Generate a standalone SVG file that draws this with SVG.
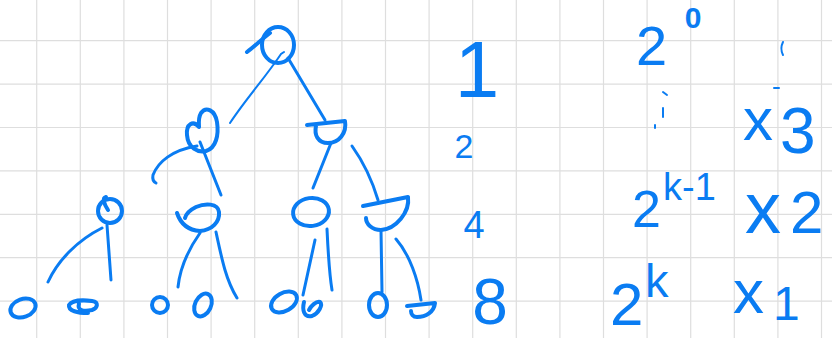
<svg xmlns="http://www.w3.org/2000/svg" width="832" height="338" viewBox="0 0 832 338">
<defs>
<style>
.grid line{stroke:#dedede;stroke-width:1.2}
.n{fill:none;stroke:#0a7cf2;stroke-width:4;stroke-linecap:round;stroke-linejoin:round}
.c{fill:none;stroke:#0a7cf2;stroke-width:3;stroke-linecap:round}
.t{fill:#0a7cf2;font-family:"Liberation Sans",Arial,sans-serif}
.m{fill:none;stroke:#0a7cf2;stroke-width:2;stroke-linecap:round}
</style>
</defs>
<rect width="832" height="338" fill="#ffffff"/>
<g class="grid">
<line x1="36.7" y1="0" x2="36.7" y2="338"/><line x1="80.3" y1="0" x2="80.3" y2="338"/><line x1="123.9" y1="0" x2="123.9" y2="338"/><line x1="167.5" y1="0" x2="167.5" y2="338"/><line x1="211.1" y1="0" x2="211.1" y2="338"/><line x1="254.7" y1="0" x2="254.7" y2="338"/><line x1="298.3" y1="0" x2="298.3" y2="338"/><line x1="341.9" y1="0" x2="341.9" y2="338"/><line x1="385.5" y1="0" x2="385.5" y2="338"/><line x1="429.1" y1="0" x2="429.1" y2="338"/><line x1="472.7" y1="0" x2="472.7" y2="338"/><line x1="516.3" y1="0" x2="516.3" y2="338"/><line x1="559.9" y1="0" x2="559.9" y2="338"/><line x1="603.5" y1="0" x2="603.5" y2="338"/><line x1="647.1" y1="0" x2="647.1" y2="338"/><line x1="690.7" y1="0" x2="690.7" y2="338"/><line x1="734.3" y1="0" x2="734.3" y2="338"/><line x1="777.9" y1="0" x2="777.9" y2="338"/><line x1="821.5" y1="0" x2="821.5" y2="338"/>
<line x1="0" y1="40.7" x2="832" y2="40.7"/><line x1="0" y1="84.1" x2="832" y2="84.1"/><line x1="0" y1="127.5" x2="832" y2="127.5"/><line x1="0" y1="170.9" x2="832" y2="170.9"/><line x1="0" y1="214.3" x2="832" y2="214.3"/><line x1="0" y1="257.7" x2="832" y2="257.7"/><line x1="0" y1="301.1" x2="832" y2="301.1"/>
</g>
<g id="connectors">
<path class="c" style="stroke-width:2" d="M230,123 C245,100 265,78 281,54 L284,52"/>
<path class="c" d="M288,58 L325,120"/>
<path class="c" d="M200,142 L221,195"/>
<path class="c" d="M197,146 C172,150 158,162 153,175 C152,180 154,182 156,183"/>
<path class="c" d="M331,143 L313,188"/>
<path class="c" d="M352,146 C362,160 372,180 378,200"/>
<path class="c" d="M107,225 L111,280"/>
<path class="c" d="M102,228 C78,240 58,260 48,282"/>
<path class="c" d="M200,233 C188,250 180,268 178,287"/>
<path class="c" d="M216,232 C222,260 226,280 237,298"/>
<path class="c" d="M315,240 L303,295"/>
<path class="c" d="M327,229 C328,250 329,272 332,290"/>
<path class="c" d="M381,230 L382,292"/>
<path class="c" d="M396,239 C410,255 418,280 421,300"/>
</g>
<g id="root"><path class="n" d="M247,52 C255,46 262,39 270,33"/><ellipse class="n" cx="278" cy="45" rx="16" ry="18"/></g>
<g id="n2a"><path class="n" d="M199,127 C193,120 186,124 187,135 C188,148 198,153 206,151 C216,148 219,135 217,122 C215,110 206,106 201,113 C198,118 199,124 199,127"/></g>
<g id="n2b"><path class="n" d="M307,125 L345,121 C347,133 339,143 328,143 C318,143 314,135 316,126"/></g>
<g id="n3a"><path class="n" d="M108,210 C104,204 102,198 106,197"/><ellipse class="n" cx="110" cy="211" rx="12" ry="12"/></g>
<g id="n3b"><path class="n" d="M177,213 C180,222 186,230 200,231 C212,230 220,222 219,212 C218,203 205,203 196,207 C190,210 186,214 185,218"/></g>
<g id="n3c"><ellipse class="n" cx="311" cy="212" rx="18" ry="14" transform="rotate(-8 311 212)"/></g>
<g id="n3d"><path class="n" d="M363,206 L408,197 C410,212 396,229 381,230 C372,230 366,224 366,218"/></g>
<g id="l1"><ellipse class="n" cx="23" cy="308" rx="13" ry="9" transform="rotate(-20 23 308)"/></g>
<g id="l2"><path class="n" d="M79,304 C77,310 83,312 92,310 C98,308 99,302 92,301 C84,300 72,300 69,305 C68,311 78,313 88,313"/></g>
<g id="l3"><ellipse class="n" cx="160" cy="305" rx="8" ry="8"/></g>
<g id="l4"><ellipse class="n" cx="203" cy="305" rx="8" ry="12" transform="rotate(25 203 305)"/></g>
<g id="l5"><ellipse class="n" cx="284" cy="302" rx="14" ry="9" transform="rotate(-30 284 302)"/></g>
<g id="l6"><path class="n" d="M304,302 C302,310 304,318 312,316 C319,313 323,305 320,302 C316,301 311,306 309,310"/></g>
<g id="l7"><ellipse class="n" cx="378" cy="305" rx="9" ry="12"/></g>
<g id="l8"><path class="n" d="M407,306 L435,303 C434,312 426,317 417,317 C413,317 411,314 411,311"/></g>
<g id="labels">
<text class="t" x="477" y="97" font-size="80" text-anchor="middle">1</text>
<text class="t" x="464" y="158" font-size="34" text-anchor="middle">2</text>
<text class="t" x="474" y="238" font-size="38" text-anchor="middle">4</text>
<text class="t" x="490" y="324" font-size="64" text-anchor="middle">8</text>
<text class="t" x="636" y="65" font-size="56">2</text>
<text class="t" x="693" y="28" font-size="30" font-weight="bold" text-anchor="middle">0</text>
<text class="t" x="743" y="140" font-size="60">x</text>
<text class="t" x="780" y="153" font-size="64">3</text>
<text class="t" x="632" y="227" font-size="52">2</text>
<text class="t" x="663" y="200" font-size="38">k-1</text>
<text class="t" x="745" y="233" font-size="72">x</text>
<text class="t" x="790" y="233" font-size="60">2</text>
<text class="t" x="610" y="325" font-size="60">2</text>
<text class="t" x="645" y="297" font-size="47">k</text>
<text class="t" x="733" y="313" font-size="62">x</text>
<text class="t" x="773" y="320" font-size="48">1</text>
</g>
<g id="marks">
<path class="m" d="M663,92 L667,95"/>
<path class="m" d="M663,108 L663,117"/>
<path class="m" d="M655,125 L655,128"/>
<path class="m" d="M783,42 C781,46 781,51 783,55"/>
<path class="m" d="M774,88 L779,88"/>
</g>
</svg>
